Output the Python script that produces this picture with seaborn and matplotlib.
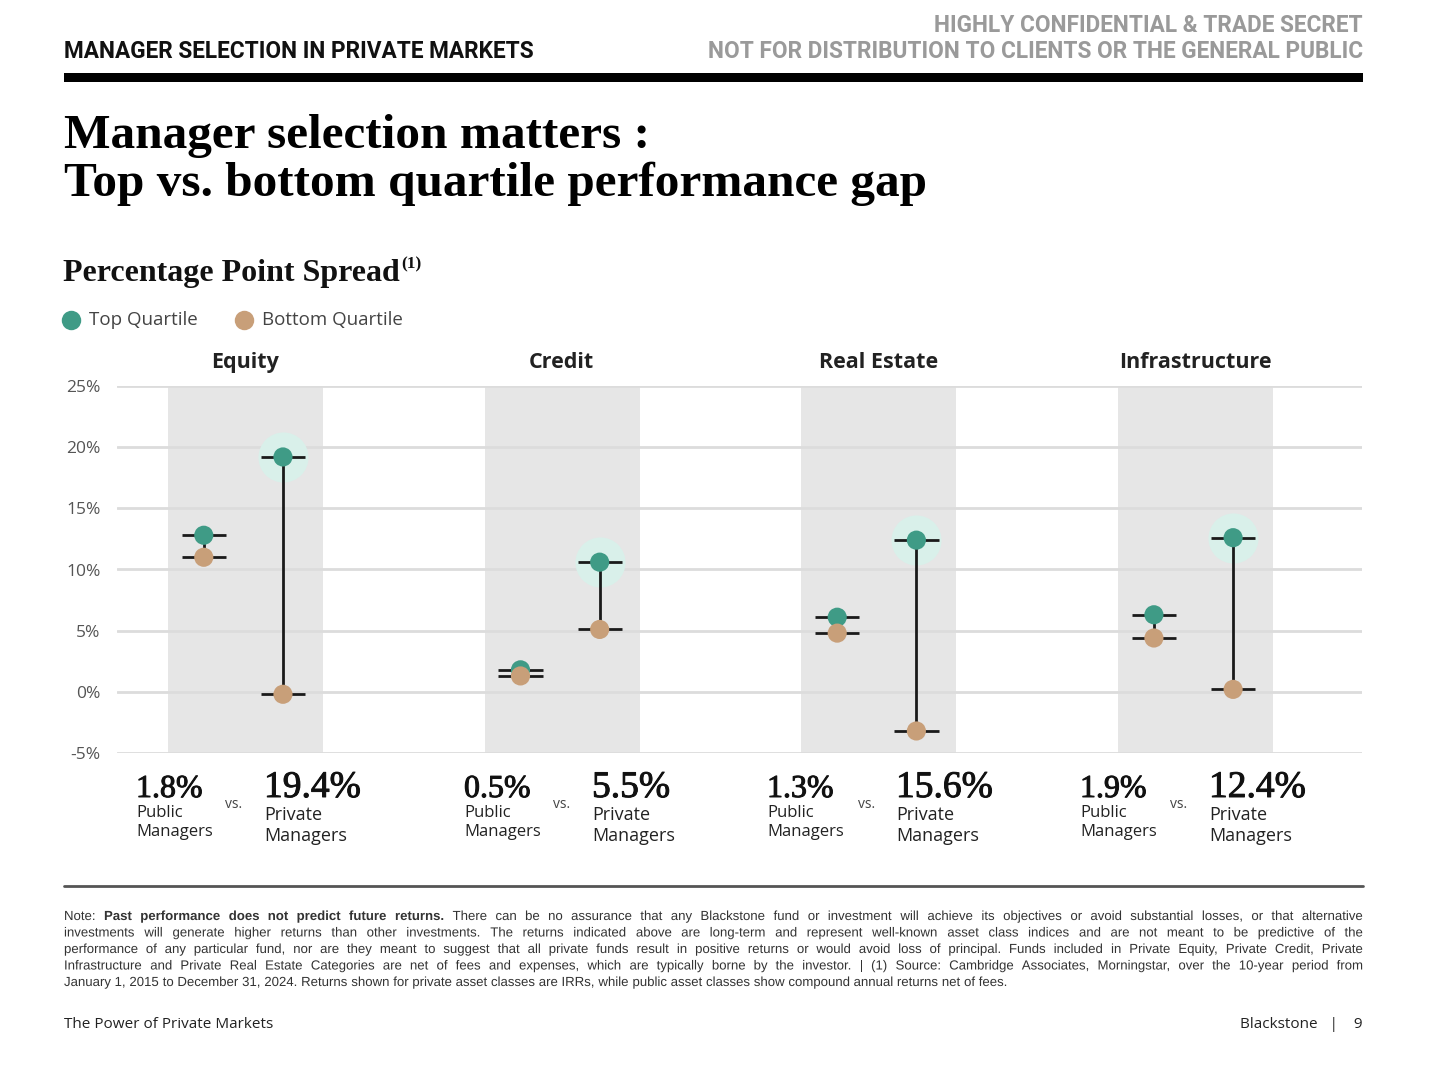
import numpy as np
import pandas as pd
import seaborn as sns
import matplotlib.pyplot as plt
import matplotlib.patheffects as pe
from matplotlib.lines import Line2D
from matplotlib.patches import Rectangle

# data
groups = ['Equity', 'Credit', 'Real Estate', 'Infrastructure']
public_top = [12.8, 1.8, 6.1, 6.3]
public_bottom = [11.0, 1.3, 4.8, 4.4]
private_top = [19.2, 10.6, 12.4, 12.6]
private_bottom = [-0.2, 5.1, -3.2, 0.2]
public_spread = ['1.8%', '0.5%', '1.3%', '1.9%']
private_spread = ['19.4%', '5.5%', '15.6%', '12.4%']
y_ticks = [-5, 0, 5, 10, 15, 20, 25]

GREEN = '#3f9b86'
TAN = '#c89f79'
HALO = '#d9f0ea'
BAND = '#e6e6e6'
SANS = ['Open Sans', 'DejaVu Sans']
SERIF = ['Liberation Serif', 'DejaVu Serif']

sns.set_theme(style='white')
plt.rcParams['font.family'] = SANS

W, H = 1430, 1081
fig = plt.figure(figsize=(W / 100, H / 100), dpi=100)
fig.patch.set_facecolor('white')


def px(x, y):
    return x / W, 1 - y / H


# long table for the dots
offsets = {'Public': -0.13, 'Private': 0.12}
rows = []
for i, g in enumerate(groups):
    for kind, tops, bots in [('Public', public_top, public_bottom),
                             ('Private', private_top, private_bottom)]:
        x = i + offsets[kind]
        rows.append(dict(group=g, kind=kind, x=x, quartile='Top Quartile', value=tops[i]))
        rows.append(dict(group=g, kind=kind, x=x, quartile='Bottom Quartile', value=bots[i]))
df = pd.DataFrame(rows)

ax = fig.add_axes([117 / W, 1 - 753 / H, 1245 / W, 367 / H])
ax.set_xlim(-0.404, 3.527)
ax.set_ylim(-5, 25)

for i, g in enumerate(groups):
    ax.axvspan(i - 0.243, i + 0.246, color=BAND, zorder=0, lw=0)
    ax.text(i, 1.064, g, transform=ax.get_xaxis_transform(), ha='center', va='center',
            fontsize=15.5, fontweight='bold', color='#222222')

ax.set_yticks(y_ticks)
ax.set_yticklabels([f'{v}%' for v in y_ticks])
ax.tick_params(axis='y', length=0, labelsize=12.5, labelcolor='#555555', pad=12)
ax.set_xticks([])
ax.set_axisbelow(True)
ax.yaxis.grid(True, color='#dcdcdc', lw=2)
for s in ax.spines.values():
    s.set_visible(False)

# halo behind private top dots
priv_top = df[(df.kind == 'Private') & (df.quartile == 'Top Quartile')]
ax.scatter(priv_top.x, priv_top.value, s=1300, color=HALO, lw=0, zorder=1.5)

# range lines and caps
for (g, kind), sub in df.groupby(['group', 'kind'], sort=False):
    x = sub.x.iloc[0]
    lo, hi = sub.value.min(), sub.value.max()
    ax.vlines(x, lo, hi, color='#1a1a1a', lw=2, zorder=2)
    ax.hlines([lo, hi], x - 0.07, x + 0.07, color='#1a1a1a', lw=2, zorder=2)

sns.scatterplot(data=df, x='x', y='value', hue='quartile',
                palette={'Top Quartile': GREEN, 'Bottom Quartile': TAN},
                s=190, edgecolor='none', legend=False, zorder=3, ax=ax)
ax.set_xlabel('')
ax.set_ylabel('')

# header
HEAD = ['Roboto', 'DejaVu Sans']
fig.text(*px(64, 51), 'MANAGER SELECTION IN PRIVATE MARKETS', fontsize=16.3, fontweight='bold',
         family=HEAD, color='#111111', va='center')
fig.text(*px(1363, 26), 'HIGHLY CONFIDENTIAL & TRADE SECRET', fontsize=16.3, fontweight='bold',
         family=HEAD, color='#9a9a9a', va='center', ha='right')
fig.text(*px(1363, 52), 'NOT FOR DISTRIBUTION TO CLIENTS OR THE GENERAL PUBLIC', fontsize=16.3,
         fontweight='bold', family=HEAD, color='#9a9a9a', va='center', ha='right')
fig.add_artist(Rectangle(px(64, 82), 1299 / W, 9 / H, transform=fig.transFigure,
                         color='black', lw=0))

# titles
fig.text(*px(64, 148), 'Manager selection matters :', fontsize=35.5, fontweight='bold',
         family=SERIF, color='black', va='baseline')
fig.text(*px(64, 196), 'Top vs. bottom quartile performance gap', fontsize=35.5, fontweight='bold',
         family=SERIF, color='black', va='baseline')
sub_t = fig.text(*px(63, 281), 'Percentage Point Spread', fontsize=23, fontweight='bold',
                 family=SERIF, color='#111111', va='baseline')
r = fig.canvas.get_renderer()
bb = sub_t.get_window_extent(r)
fig.text(bb.x1 / W + 1 / W, 1 - 268 / H, '(1)', fontsize=12.5, fontweight='bold',
         family=SERIF, color='#111111', va='baseline')

# legend
for lx, label, col in [(71, 'Top Quartile', GREEN), (244, 'Bottom Quartile', TAN)]:
    fig.add_artist(Line2D([lx / W], [1 - 320 / H], marker='o', ms=14, color=col,
                          mec='none', transform=fig.transFigure))
    fig.text(*px(lx + 18, 320), label, fontsize=13.5, color='#444444', va='center')

# spread labels under each group
pub_x = [136, 464, 767, 1080]
vs_x = [225, 553, 858, 1170]
priv_x = [264, 592, 896, 1209]
thick = [pe.withStroke(linewidth=0.7, foreground='#111111')]
for i in range(len(groups)):
    fig.text(*px(pub_x[i], 797), public_spread[i], fontsize=23, family=SERIF,
             color='#111111', va='baseline', path_effects=thick)
    fig.text(*px(pub_x[i], 813), 'Public', fontsize=12, color='#222222', va='center')
    fig.text(*px(pub_x[i], 832), 'Managers', fontsize=12, color='#222222', va='center')
    fig.text(*px(vs_x[i], 804), 'vs.', fontsize=10, color='#444444', va='center')
    fig.text(*px(priv_x[i], 797), private_spread[i], fontsize=27, family=SERIF,
             color='#111111', va='baseline', path_effects=thick)
    fig.text(*px(priv_x[i], 815), 'Private', fontsize=13, color='#222222', va='center')
    fig.text(*px(priv_x[i], 836), 'Managers', fontsize=13, color='#222222', va='center')

fig.add_artist(Line2D([64 / W, 1363 / W], [1 - 886 / H] * 2, color='#555555', lw=2,
                      transform=fig.transFigure))

# footnote, justified line by line
foot_lines = [
    "Note: **Past performance does not predict future returns.** There can be no assurance that any Blackstone fund or investment will achieve its objectives or avoid substantial losses, or that alternative",
    "investments will generate higher returns than other investments. The returns indicated above are long-term and represent well-known asset class indices and are not meant to be predictive of the",
    "performance of any particular fund, nor are they meant to suggest that all private funds result in positive returns or would avoid loss of principal. Funds included in Private Equity, Private Credit, Private",
    "Infrastructure and Private Real Estate Categories are net of fees and expenses, which are typically borne by the investor.  |  (1) Source: Cambridge Associates, Morningstar, over the 10-year period from",
    "January 1, 2015 to December 31, 2024. Returns shown for private asset classes are IRRs, while public asset classes show compound annual returns net of fees.",
]
FOOT = ['Liberation Sans', 'DejaVu Sans']
fsize = 9.5
left, right = 64, 1363
bold = False
for li, line in enumerate(foot_lines):
    yb = 920 + li * 16.5
    objs = []
    for w in line.split():
        if w.startswith('**'):
            bold = True
            w = w[2:]
        end_bold = w.endswith('**')
        if end_bold:
            w = w[:-2]
        t = fig.text(0, 1 - yb / H, w, fontsize=fsize, fontweight='bold' if bold else 'normal',
                     family=FOOT, color='#333333', va='baseline', path_effects=[pe.Normal()])
        objs.append(t)
        if end_bold:
            bold = False
    widths = [t.get_window_extent(r).width for t in objs]
    if li < len(foot_lines) - 1:
        gap = (right - left - sum(widths)) / (len(objs) - 1)
    else:
        gap = fsize * 100 / 72 * 0.28
    x = left
    for t, wd in zip(objs, widths):
        t.set_x(x / W)
        x += wd + gap

# footer
fig.text(*px(64, 1024), 'The Power of Private Markets', fontsize=11, color='#222222', va='center')
fig.text(*px(1363, 1025), 'Blackstone   |    9', fontsize=11, color='#222222', va='center', ha='right')

fig.savefig('out.png', dpi=100, facecolor='white')
